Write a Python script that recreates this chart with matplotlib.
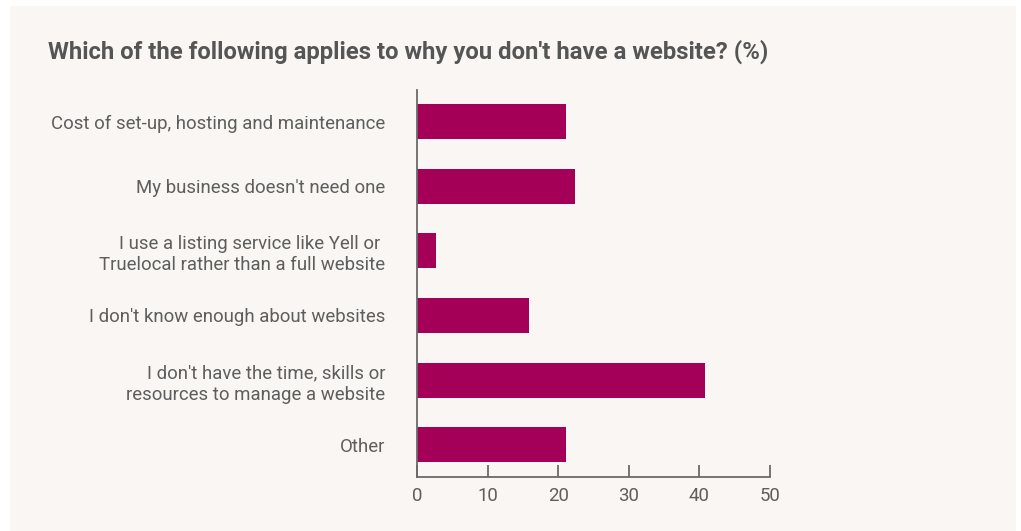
import matplotlib.pyplot as plt
from matplotlib.patches import Rectangle

categories = [
    'Cost of set-up, hosting and maintenance',
    "My business doesn't need one",
    'I use a listing service like Yell or \nTruelocal rather than a full website',
    "I don't know enough about websites",
    "I don't have the time, skills or\nresources to manage a website",
    'Other',
]
values = [21.1, 22.4, 2.7, 15.8, 40.8, 21.1]
ticks = [0, 10, 20, 30, 40, 50]

bg = '#f9f6f3'
bar_color = '#a50057'
text_color = '#5e5e5e'
axis_color = '#6a6a6a'

plt.rcParams['font.family'] = ['Roboto', 'DejaVu Sans']

fig = plt.figure(figsize=(10.21, 5.31), dpi=100)
fig.patch.set_facecolor('white')
# beige panel behind everything
fig.patches.append(Rectangle((10 / 1021, 0), 1006 / 1021, 525 / 531,
                             transform=fig.transFigure, facecolor=bg,
                             edgecolor='none', zorder=-1))

ax = fig.add_axes([417.3 / 1021, 1 - 477 / 531, 352.4 / 1021, 387 / 531])
ax.set_facecolor(bg)

y = list(range(len(categories)))
ax.barh(y, values, height=0.54, color=bar_color, zorder=2)

ax.set_ylim(5.5, -0.49)
ax.set_xlim(0, 50)
ax.set_xticks(ticks)
ax.set_xticklabels([str(t) for t in ticks])
ax.set_yticks(y)
ax.set_yticklabels(categories, fontsize=13.4, color=text_color,
                   linespacing=1.25)

for s in ['top', 'right']:
    ax.spines[s].set_visible(False)
for s in ['left', 'bottom']:
    ax.spines[s].set_color(axis_color)
    ax.spines[s].set_linewidth(1.3)

ax.tick_params(axis='y', length=0, pad=23)
ax.tick_params(axis='x', direction='in', length=9, width=1.3,
               color=axis_color, labelcolor=text_color, labelsize=13.4, pad=7)

fig.text(48 / 1021, 1 - 52 / 531,
         "Which of the following applies to why you don't have a website? (%)",
         fontsize=17.2, fontweight='bold', color='#555555', va='center', ha='left')

fig.savefig('out.png', dpi=100, facecolor=fig.get_facecolor())
